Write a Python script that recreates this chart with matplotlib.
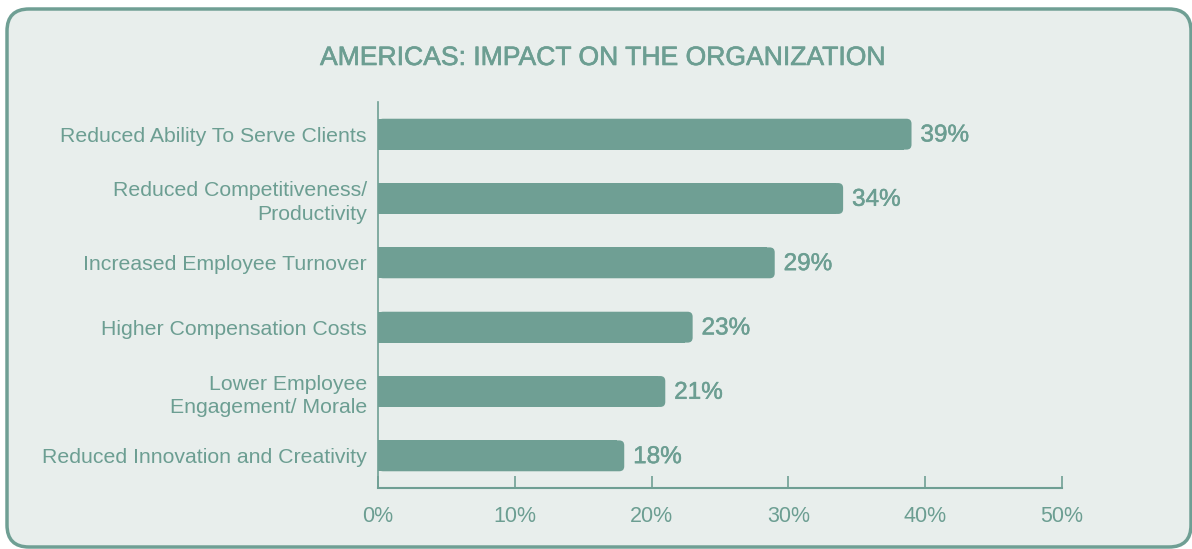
import matplotlib
matplotlib.use("Agg")
import matplotlib.pyplot as plt
from matplotlib.patches import FancyBboxPatch
import matplotlib.patheffects as pe

categories = [
    "Reduced Ability To Serve Clients",
    "Reduced Competitiveness/\nProductivity",
    "Increased Employee Turnover",
    "Higher Compensation Costs",
    "Lower Employee\nEngagement/ Morale",
    "Reduced Innovation and Creativity",
]
values = [39, 34, 29, 23, 21, 18]
xticks = [0, 10, 20, 30, 40, 50]
xtick_labels = ["0%", "10%", "20%", "30%", "40%", "50%"]
title = "AMERICAS: IMPACT ON THE ORGANIZATION"

GREEN = "#6f9f94"
TEXT = "#6c9e92"
BG = "#e8eeec"
FONT = ["Liberation Sans", "DejaVu Sans"]
plt.rcParams["font.family"] = FONT

W, H = 1192, 549
fig = plt.figure(figsize=(W / 100, H / 100), dpi=100)
fig.patch.set_facecolor("white")

# rounded frame (figure coordinates)
frame = FancyBboxPatch((7 / W, 2 / H), (1191 - 7) / W, (H - 9 - 2) / H,
                       boxstyle=f"round,pad=0,rounding_size={22 / W}",
                       mutation_aspect=W / H,
                       transform=fig.transFigure, facecolor=BG,
                       edgecolor="#6f9f94", linewidth=2.5, zorder=-10)
fig.patches.append(frame)

ax = fig.add_axes([378 / W, (H - 488) / H, (1062 - 378) / W, (488 - 102) / H])
ax.set_facecolor("none")
ax.set_zorder(5)

n = len(categories)
ypos = list(range(n))
bar_h = 0.48
ax.set_xlim(0, 50)
ax.set_ylim(n - 0.5, -0.5)

medium = [pe.withStroke(linewidth=0.35, foreground=TEXT)]

rx = 5 / 13.68
ry = 5 / 64.4
for y, v in zip(ypos, values):
    ax.barh(y, v - rx * 1.5, height=bar_h, color=GREEN, edgecolor="none", zorder=2)
    p = FancyBboxPatch((0, y - bar_h / 2), v, bar_h,
                       boxstyle=f"round,pad=0,rounding_size={rx}",
                       mutation_aspect=ry / rx,
                       facecolor=GREEN, edgecolor="none", zorder=2)
    ax.add_patch(p)
    ax.text(v + 0.65, y + 0.02, f"{v}%", va="center", ha="left", fontsize=17.5,
            color=TEXT, path_effects=medium)

ax.set_yticks(ypos)
ax.set_yticklabels(categories, fontsize=15.3, color=TEXT, linespacing=1.3)
ax.set_xticks(xticks)
ax.set_xticklabels(xtick_labels, fontsize=15.5, color=TEXT)
ax.tick_params(axis="y", length=0, pad=8)
ax.tick_params(axis="x", direction="in", length=9, width=1.2, color=GREEN, pad=13)
for lab in ax.get_yticklabels():
    lab.set_horizontalalignment("right")

for s in ["top", "right"]:
    ax.spines[s].set_visible(False)
ax.spines["left"].set_color(GREEN)
ax.spines["bottom"].set_color(GREEN)
ax.spines["left"].set_linewidth(1.2)
ax.spines["bottom"].set_linewidth(1.5)

fig.text(602 / W, 1 - 58 / H, title, ha="center", va="center", fontsize=19.1,
         color=TEXT, path_effects=[pe.withStroke(linewidth=0.45, foreground=TEXT)])

fig.savefig("out.png", dpi=100, facecolor=fig.get_facecolor())
